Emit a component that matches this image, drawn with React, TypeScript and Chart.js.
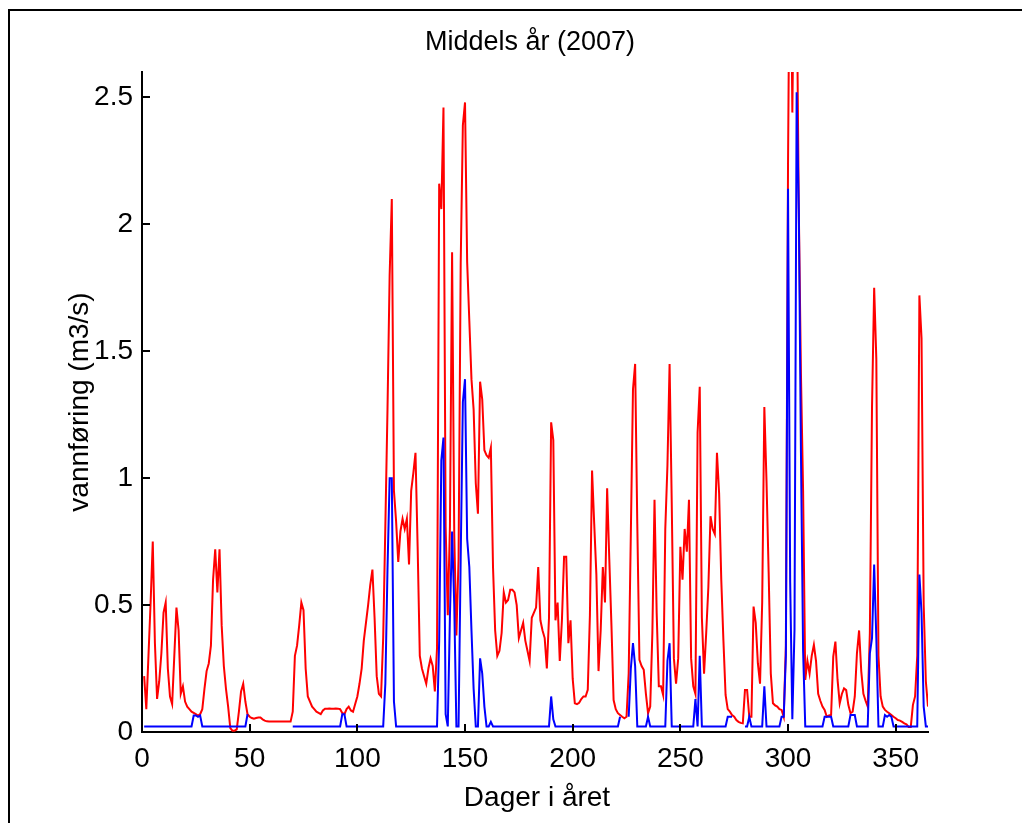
import React, { useEffect, useRef } from "react";
import { Chart, registerables } from "chart.js";

Chart.register(...registerables);

const TITLE = "Middels år (2007)";
const X_LABEL = "Dager i året";
const Y_LABEL = "vannføring (m3/s)";

// day of year (1..365)
const days: number[] = Array.from({ length: 365 }, (_, i) => i + 1);

// red series: total flow (m3/s)
const redFlow: number[] = [
  0.22, 0.09, 0.30, 0.51, 0.75, 0.35, 0.13, 0.20, 0.31, 0.47,
  0.51, 0.25, 0.14, 0.11, 0.30, 0.49, 0.40, 0.15, 0.18, 0.12,
  0.10, 0.09, 0.08, 0.075, 0.07, 0.065, 0.07, 0.09, 0.17, 0.24,
  0.27, 0.34, 0.60, 0.72, 0.55, 0.72, 0.42, 0.26, 0.17, 0.10,
  0.015, 0.005, 0.005, 0.01, 0.08, 0.16, 0.19, 0.12, 0.07, 0.06,
  0.055, 0.052, 0.055, 0.057, 0.057, 0.05, 0.045, 0.042, 0.041, 0.041,
  0.041, 0.041, 0.041, 0.041, 0.041, 0.041, 0.041, 0.041, 0.041, 0.08,
  0.30, 0.34, 0.42, 0.51, 0.48, 0.25, 0.14, 0.12, 0.10, 0.09,
  0.08, 0.075, 0.07, 0.085, 0.092, 0.092, 0.093, 0.092, 0.092, 0.093,
  0.092, 0.09, 0.075, 0.07, 0.09, 0.10, 0.085, 0.08, 0.11, 0.14,
  0.19, 0.25, 0.36, 0.43, 0.50, 0.58, 0.64, 0.45, 0.22, 0.15,
  0.14, 0.37, 0.81, 1.27, 1.80, 2.10, 0.95, 0.83, 0.67, 0.79,
  0.84, 0.80, 0.84, 0.66, 0.95, 1.02, 1.10, 0.73, 0.30, 0.25,
  0.22, 0.19, 0.25, 0.29, 0.26, 0.16, 0.33, 2.16, 2.06, 2.46,
  0.81, 0.46, 0.81, 1.89, 0.78, 0.38, 0.68, 1.85, 2.39, 2.48,
  1.85, 1.62, 1.39, 1.27, 0.98, 0.86, 1.38, 1.31, 1.11, 1.09,
  1.08, 1.12, 0.65, 0.40, 0.30, 0.32, 0.39, 0.55, 0.51, 0.52,
  0.56, 0.56, 0.55, 0.50, 0.37, 0.40, 0.43, 0.36, 0.32, 0.28,
  0.45, 0.47, 0.49, 0.65, 0.44, 0.40, 0.37, 0.25, 0.45, 1.22,
  1.15, 0.44, 0.51, 0.28, 0.44, 0.69, 0.69, 0.35, 0.44, 0.21,
  0.113, 0.11, 0.115, 0.13, 0.14, 0.14, 0.166, 0.46, 1.03, 0.82,
  0.62, 0.24, 0.40, 0.65, 0.51, 0.96, 0.68, 0.42, 0.126, 0.09,
  0.074, 0.067, 0.06, 0.054, 0.06, 0.23, 0.78, 1.35, 1.45, 0.82,
  0.284, 0.26, 0.245, 0.15, 0.074, 0.10, 0.39, 0.915, 0.47, 0.18,
  0.18, 0.146, 0.80, 1.05, 1.45, 0.90, 0.29, 0.19, 0.29, 0.73,
  0.60, 0.80, 0.71, 0.915, 0.29, 0.18, 0.15, 1.18, 1.36, 0.45,
  0.23, 0.39, 0.57, 0.85, 0.80, 0.78, 1.10, 0.94, 0.60, 0.36,
  0.146, 0.09, 0.08, 0.067, 0.06, 0.047, 0.04, 0.036, 0.034, 0.165,
  0.165, 0.06, 0.06, 0.494, 0.43, 0.27, 0.19, 0.51, 1.28, 0.99,
  0.63, 0.23, 0.113, 0.105, 0.10, 0.09, 0.087, 0.06, 0.34, 2.24,
  3.4, 2.44, 3.2, 3.0, 2.06, 1.41, 0.95, 0.205, 0.28, 0.23,
  0.30, 0.343, 0.28, 0.15, 0.123, 0.10, 0.087, 0.06, 0.065, 0.067,
  0.297, 0.356, 0.205, 0.113, 0.15, 0.172, 0.165, 0.107, 0.074, 0.08,
  0.14, 0.31, 0.40, 0.24, 0.15, 0.123, 0.10, 0.39, 1.28, 1.75,
  1.47, 0.30, 0.14, 0.10, 0.087, 0.08, 0.074, 0.067, 0.06, 0.054,
  0.047, 0.045, 0.04, 0.034, 0.03, 0.02, 0.02, 0.107, 0.14, 0.30,
  1.72, 1.55, 0.50, 0.20, 0.10,
];

// blue series: minimum / residual flow (m3/s); null = no value
const B = 0.022;
const blueFlow: (number | null)[] = [
  B, B, B, B, B, B, B, B, B, B,
  B, B, B, B, B, B, B, B, B, B,
  B, B, B, 0.065, 0.065, 0.06, 0.065, B, B, B,
  B, B, B, B, B, B, B, B, B, B,
  B, B, B, B, B, B, B, B, 0.07, null,
  null, null, null, null, null, null, null, null, null, null,
  null, null, null, null, null, null, null, null, null, B,
  B, B, B, B, B, B, B, B, B, B,
  B, B, B, B, B, B, B, B, B, B,
  B, B, 0.07, 0.07, B, B, B, B, B, B,
  B, B, B, B, B, B, B, B, B, B,
  B, B, 0.19, 0.64, 1.0, 1.0, 0.12, B, B, B,
  B, B, B, B, B, B, B, B, B, B,
  B, B, B, B, B, B, B, 0.36, 1.07, 1.16,
  0.07, B, 0.46, 0.79, 0.5, B, B, 0.69, 1.30, 1.39,
  0.76, 0.65, 0.40, 0.17, B, B, 0.29, 0.23, 0.10, B,
  B, 0.04, B, B, B, B, B, B, B, B,
  B, B, B, B, B, B, B, B, B, B,
  B, B, B, B, B, B, B, B, B, 0.14,
  0.05, B, B, B, B, B, B, B, B, B,
  B, B, B, B, B, B, B, B, B, B,
  B, B, B, B, B, B, B, B, B, B,
  B, 0.06, null, null, null, 0.06, 0.25, 0.35, 0.26, B,
  B, B, B, B, 0.06, B, B, B, B, B,
  B, B, B, 0.28, 0.35, B, B, B, B, B,
  B, B, B, B, B, B, 0.13, B, 0.30, B,
  B, B, B, B, B, B, B, B, B, B,
  B, 0.06, 0.06, 0.06, null, null, null, null, null, B,
  B, 0.06, B, B, B, B, B, B, 0.18, B,
  B, B, B, B, B, B, 0.06, 0.06, 0.30, 2.14,
  0.59, 0.05, 0.40, 2.52, 2.06, 1.10, 0.32, B, B, B,
  B, B, B, B, B, B, 0.06, 0.06, 0.06, 0.06,
  B, B, B, B, B, B, B, B, 0.067, 0.067,
  0.067, B, B, B, B, B, B, 0.31, 0.37, 0.66,
  0.37, B, B, B, 0.067, 0.06, 0.067, 0.06, B, B,
  B, B, B, B, B, B, B, B, B, B,
  0.62, 0.47, 0.10, B, B,
];

const X_MIN = 0;
const X_MAX = 365;
const X_STEP = 50;
const Y_MIN = 0;
const Y_MAX = 2.6;
const Y_STEP = 0.5;

const FONT = '"Liberation Sans", Arial, Helvetica, sans-serif';

const decorPlugin = {
  id: "decor",
  afterDraw(chart: any) {
    const { ctx, chartArea: a, scales } = chart;
    ctx.save();
    ctx.strokeStyle = "#000";
    ctx.lineWidth = 2;
    // inward tick marks (MATLAB style)
    ctx.beginPath();
    scales.x.ticks.forEach((t: any) => {
      const px = Math.round(scales.x.getPixelForValue(t.value));
      ctx.moveTo(px, a.bottom);
      ctx.lineTo(px, a.bottom - 8);
    });
    scales.y.ticks.forEach((t: any) => {
      const py = Math.round(scales.y.getPixelForValue(t.value));
      ctx.moveTo(a.left, py);
      ctx.lineTo(a.left + 8, py);
    });
    ctx.stroke();

    // outer figure frame
    ctx.beginPath();
    ctx.moveTo(9, 823);
    ctx.lineTo(9, 10);
    ctx.lineTo(1022, 10);
    ctx.stroke();

    // texts
    ctx.fillStyle = "#000";
    ctx.textAlign = "center";
    ctx.textBaseline = "alphabetic";
    const cx = (a.left + a.right) / 2;
    ctx.font = `27px ${FONT}`;
    ctx.fillText(TITLE, cx - 5, 50);
    ctx.font = `28px ${FONT}`;
    ctx.fillText(X_LABEL, cx + 2, 806);
    ctx.save();
    ctx.translate(88, (a.top + a.bottom) / 2);
    ctx.rotate(-Math.PI / 2);
    ctx.fillText(Y_LABEL, 0, 0);
    ctx.restore();
    ctx.restore();
  },
};

export default function App() {
  const canvasRef = useRef<HTMLCanvasElement | null>(null);

  useEffect(() => {
    const canvas = canvasRef.current;
    if (!canvas) return;
    const chart = new Chart(canvas, {
      type: "line",
      data: {
        datasets: [
          {
            label: "blue",
            data: days.map((d, i) => ({ x: d, y: blueFlow[i] })),
            borderColor: "#0000ff",
            borderWidth: 2,
            pointRadius: 0,
            tension: 0,
            spanGaps: false,
            fill: false,
          },
          {
            label: "red",
            data: days.map((d, i) => ({ x: d, y: redFlow[i] })),
            borderColor: "#ff0000",
            borderWidth: 2,
            pointRadius: 0,
            tension: 0,
            fill: false,
          },
        ],
      },
      options: {
        animation: false,
        responsive: false,
        events: [],
        layout: { padding: { left: 0, top: 72, right: 94, bottom: 0 } },
        plugins: {
          legend: { display: false },
          tooltip: { enabled: false },
          title: { display: false },
        },
        scales: {
          x: {
            type: "linear",
            min: X_MIN,
            max: X_MAX,
            afterFit: (s: any) => {
              s.height = 91;
            },
            ticks: {
              stepSize: X_STEP,
              includeBounds: false,
              autoSkip: false,
              maxRotation: 0,
              color: "#000",
              padding: 10,
              font: { family: FONT, size: 28 },
              callback: (v: any) => String(Number(v)),
            },
            grid: { display: false, drawTicks: false },
            border: { display: true, color: "#000", width: 2 },
          },
          y: {
            type: "linear",
            min: Y_MIN,
            max: Y_MAX,
            afterFit: (s: any) => {
              s.width = 142;
            },
            ticks: {
              stepSize: Y_STEP,
              includeBounds: false,
              color: "#000",
              padding: 9,
              font: { family: FONT, size: 28 },
              callback: (v: any) => String(Math.round(Number(v) * 10) / 10),
            },
            grid: { display: false, drawTicks: false },
            border: { display: true, color: "#000", width: 2 },
          },
        },
      },
      plugins: [decorPlugin],
    } as any);
    return () => chart.destroy();
  }, []);

  return (
    <div style={{ position: "absolute", left: 0, top: 0, width: 1022, height: 823, background: "#fff" }}>
      <canvas ref={canvasRef} width={1022} height={823} style={{ display: "block" }} />
    </div>
  );
}
